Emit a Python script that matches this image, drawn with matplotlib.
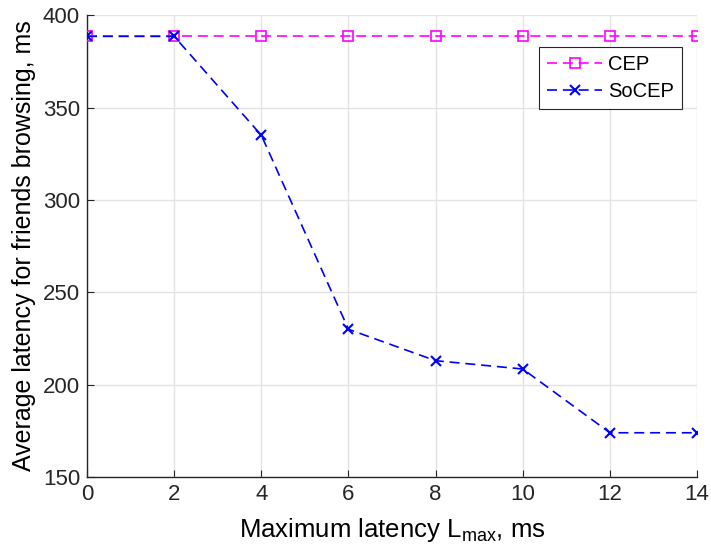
import matplotlib.pyplot as plt

# Data
lmax = [0, 2, 4, 6, 8, 10, 12, 14]
cep = [388.5, 388.5, 388.5, 388.5, 388.5, 388.5, 388.5, 388.5]
socep = [388.5, 388.5, 335, 230, 213, 208.5, 174, 174]

plt.rcParams['font.family'] = ['Liberation Sans', 'DejaVu Sans']

fig = plt.figure(figsize=(7.11, 5.6), dpi=100)
ax = fig.add_axes([0.1224, 0.148, 0.858, 0.825])

dash = (0, (6, 3.5))
ax.plot(lmax, cep, color='#ff00ff', linestyle=dash, marker='s', markersize=7,
        markerfacecolor='none', markeredgewidth=1.2, linewidth=1.2, label='CEP', zorder=3)
ax.plot(lmax, socep, color='#0000ff', linestyle=dash, marker='x', markersize=7,
        markeredgewidth=1.5, linewidth=1.2, label='SoCEP', zorder=4)

ax.set_xlim(0, 14)
ax.set_ylim(150, 400)
ax.set_xticks(range(0, 15, 2))
ax.set_yticks(range(150, 401, 50))

ax.grid(True, color='#e3e3e3', linewidth=1.0)
ax.set_axisbelow(True)
for side in ['top', 'right']:
    ax.spines[side].set_visible(False)
for side in ['left', 'bottom']:
    ax.spines[side].set_color('#262626')
    ax.spines[side].set_linewidth(1.0)
ax.tick_params(direction='in', length=5, colors='#262626', labelsize=16, pad=5)

ax.set_xlabel('Maximum latency L$_{\\mathregular{max}}$, ms', fontsize=18.5, labelpad=8)
ax.set_ylabel('Average latency for friends browsing, ms', fontsize=18, labelpad=5)

leg = ax.legend(loc='upper right', bbox_to_anchor=(0.975, 0.932), fontsize=14.5,
                fancybox=False, framealpha=1, edgecolor='#262626',
                handlelength=2.7, borderpad=0.4, labelspacing=0.4,
                handletextpad=0.3, borderaxespad=0)
leg.get_frame().set_linewidth(0.8)

plt.savefig('out.png', dpi=100)
